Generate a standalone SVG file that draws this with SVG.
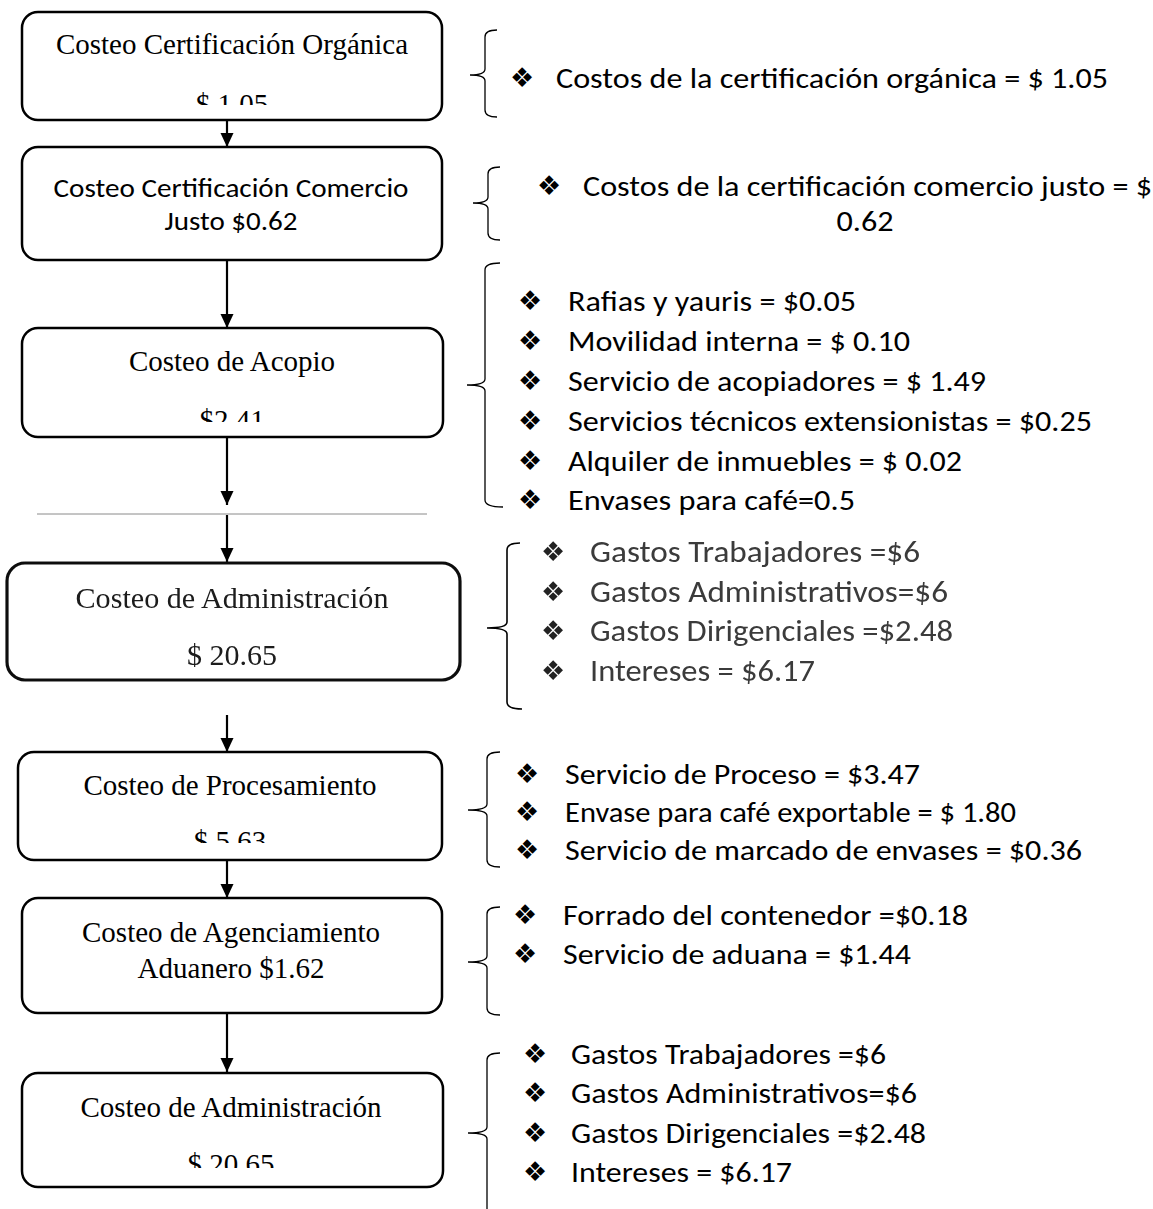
<svg xmlns="http://www.w3.org/2000/svg" width="1153" height="1209" viewBox="0 0 1153 1209">
<defs>
<style>
.box{fill:#fff;stroke:#000;stroke-width:2.5}
.box4{fill:#fff;stroke:#111;stroke-width:3.2}
.ttl{font-family:"Liberation Serif","Times New Roman",serif;font-size:29px;fill:#000;text-anchor:middle}
.cal{font-family:Carlito,Lato,sans-serif;font-size:29px;fill:#000}
.cal2{font-family:Carlito,Lato,sans-serif;font-size:27px;fill:#000;text-anchor:middle}
.gray{font-family:Carlito,Lato,sans-serif;font-size:30px;fill:#3a3a3a}
.blt{font-family:"DejaVu Sans",sans-serif;font-size:27px;text-anchor:middle;fill:#000}
.brace{fill:none;stroke:#000;stroke-width:1.3}
.conn{stroke:#000;stroke-width:2.2;fill:none;marker-end:url(#arr)}
</style>
<marker id="arr" markerUnits="userSpaceOnUse" markerWidth="14" markerHeight="14" viewBox="0 0 14 14" refX="14" refY="7" orient="auto"><path d="M0,0.5 L14,7 L0,13.5 z" fill="#000"/></marker>
<clipPath id="c1"><rect x="0" y="0" width="460" height="105"/></clipPath>
<clipPath id="c3"><rect x="0" y="330" width="460" height="92"/></clipPath>
<clipPath id="c5"><rect x="0" y="754" width="460" height="89"/></clipPath>
<clipPath id="c7"><rect x="0" y="1075" width="460" height="93"/></clipPath>
<filter id="soft" x="-5%" y="-5%" width="110%" height="110%"><feGaussianBlur stdDeviation="0.5"/></filter>
</defs>

<g id="connectors">
<line class="conn" x1="227" y1="120" x2="227" y2="147"/>
<line class="conn" x1="227" y1="260" x2="227" y2="328"/>
<line class="conn" x1="227" y1="437" x2="227" y2="505"/>
<line x1="37" y1="514" x2="427" y2="514" stroke="#8a8a8a" stroke-width="1"/>
<line class="conn" x1="227" y1="515" x2="227" y2="562"/>
<line class="conn" x1="227" y1="715" x2="227" y2="752"/>
<line class="conn" x1="227" y1="860" x2="227" y2="898"/>
<line class="conn" x1="227" y1="1013" x2="227" y2="1072"/>
</g>

<g id="node-organica">
<rect class="box" x="22" y="12" width="420" height="108" rx="16"/>
<text class="ttl" x="232" y="54">Costeo Certificación Orgánica</text>
<text class="ttl" x="232" y="114" clip-path="url(#c1)">$ 1.05</text>
</g>

<g id="node-comercio">
<rect class="box" x="22" y="147" width="420" height="113" rx="16"/>
<text class="cal2" x="231" y="197" textLength="355" lengthAdjust="spacingAndGlyphs">Costeo Certificación Comercio</text>
<text class="cal2" x="231" y="230" textLength="133" lengthAdjust="spacingAndGlyphs">Justo $0.62</text>
</g>

<g id="node-acopio">
<rect class="box" x="22" y="328" width="421" height="109" rx="16"/>
<text class="ttl" x="232" y="371">Costeo de Acopio</text>
<text class="ttl" x="232" y="430" clip-path="url(#c3)">$2.41</text>
</g>

<g id="node-administracion-1" filter="url(#soft)">
<rect class="box4" x="7" y="563" width="453" height="117" rx="18"/>
<text class="ttl" x="232" y="608" style="font-size:30px;fill:#1a1a1a" textLength="313" lengthAdjust="spacingAndGlyphs">Costeo de Administración</text>
<text class="ttl" x="232" y="665" style="font-size:30px;fill:#1a1a1a">$ 20.65</text>
</g>

<g id="node-procesamiento">
<rect class="box" x="18" y="752" width="424" height="108" rx="16"/>
<text class="ttl" x="230" y="795">Costeo de Procesamiento</text>
<text class="ttl" x="230" y="851" clip-path="url(#c5)">$ 5.63</text>
</g>

<g id="node-agenciamiento">
<rect class="box" x="22" y="898" width="420" height="115" rx="16"/>
<text class="ttl" x="231" y="942">Costeo de Agenciamiento</text>
<text class="ttl" x="231" y="978">Aduanero $1.62</text>
</g>

<g id="node-administracion-2">
<rect class="box" x="22" y="1073" width="421" height="114" rx="16"/>
<text class="ttl" x="231" y="1117">Costeo de Administración</text>
<text class="ttl" x="231" y="1174" clip-path="url(#c7)">$ 20.65</text>
</g>

<g id="detail-organica">
<path class="brace" d="M497,30 Q485,30 485,37 L485,69 Q485,75 470,75 Q485,75 485,81 L485,110 Q485,117 497,117"/>
<text class="blt" x="522" y="87">❖</text>
<text class="cal" x="556" y="88" textLength="552" lengthAdjust="spacingAndGlyphs">Costos de la certificación orgánica = $ 1.05</text>
</g>

<g id="detail-comercio">
<path class="brace" d="M500,167 Q488,167 488,174 L488,197 Q488,203 473,203 Q488,203 488,209 L488,233 Q488,240 500,240"/>
<text class="blt" x="549" y="195">❖</text>
<text class="cal" x="583" y="196" textLength="569" lengthAdjust="spacingAndGlyphs">Costos de la certificación comercio justo = $</text>
<text class="cal" x="865" y="231" text-anchor="middle" textLength="57" lengthAdjust="spacingAndGlyphs">0.62</text>
</g>

<g id="detail-acopio">
<path class="brace" d="M500,263 Q485,263 485,270 L485,379 Q485,385 467,385 Q485,385 485,391 L485,500 Q485,507 503,507"/>
<text class="blt" x="530" y="310">❖</text>
<text class="cal" x="568" y="311" textLength="288" lengthAdjust="spacingAndGlyphs">Rafias y yauris = $0.05</text>
<text class="blt" x="530" y="350">❖</text>
<text class="cal" x="568" y="351" textLength="342" lengthAdjust="spacingAndGlyphs">Movilidad interna = $ 0.10</text>
<text class="blt" x="530" y="390">❖</text>
<text class="cal" x="568" y="391" textLength="418" lengthAdjust="spacingAndGlyphs">Servicio de acopiadores = $ 1.49</text>
<text class="blt" x="530" y="430">❖</text>
<text class="cal" x="568" y="431" textLength="524" lengthAdjust="spacingAndGlyphs">Servicios técnicos extensionistas = $0.25</text>
<text class="blt" x="530" y="470">❖</text>
<text class="cal" x="568" y="471" textLength="394" lengthAdjust="spacingAndGlyphs">Alquiler de inmuebles = $ 0.02</text>
<text class="blt" x="530" y="509">❖</text>
<text class="cal" x="568" y="510" textLength="287" lengthAdjust="spacingAndGlyphs">Envases para café=0.5</text>
</g>

<g id="detail-administracion-1" filter="url(#soft)">
<path class="brace" style="stroke-width:1.6" d="M520,543 Q507,543 507,550 L507,622 Q507,628 487,628 Q507,628 507,634 L507,702 Q507,709 522,709"/>
<text class="blt" x="553" y="561" style="fill:#222">❖</text>
<text class="gray" x="590" y="562" textLength="330" lengthAdjust="spacingAndGlyphs">Gastos Trabajadores =$6</text>
<text class="blt" x="553" y="601" style="fill:#222">❖</text>
<text class="gray" x="590" y="602" textLength="358" lengthAdjust="spacingAndGlyphs">Gastos Administrativos=$6</text>
<text class="blt" x="553" y="640" style="fill:#222">❖</text>
<text class="gray" x="590" y="641" textLength="363" lengthAdjust="spacingAndGlyphs">Gastos Dirigenciales =$2.48</text>
<text class="blt" x="553" y="680" style="fill:#222">❖</text>
<text class="gray" x="590" y="681" textLength="225" lengthAdjust="spacingAndGlyphs">Intereses = $6.17</text>
</g>

<g id="detail-procesamiento">
<path class="brace" d="M500,752 Q487,752 487,759 L487,804 Q487,810 468,810 Q487,810 487,816 L487,860 Q487,867 500,867"/>
<text class="blt" x="527" y="783">❖</text>
<text class="cal" x="565" y="784" textLength="355" lengthAdjust="spacingAndGlyphs">Servicio de Proceso = $3.47</text>
<text class="blt" x="527" y="821">❖</text>
<text class="cal" x="565" y="822" textLength="451" lengthAdjust="spacingAndGlyphs">Envase para café exportable = $ 1.80</text>
<text class="blt" x="527" y="859">❖</text>
<text class="cal" x="565" y="860" textLength="517" lengthAdjust="spacingAndGlyphs">Servicio de marcado de envases = $0.36</text>
</g>

<g id="detail-agenciamiento">
<path class="brace" d="M500,907 Q487,907 487,914 L487,956 Q487,962 468,962 Q487,962 487,968 L487,1008 Q487,1015 500,1015"/>
<text class="blt" x="525" y="924">❖</text>
<text class="cal" x="563" y="925" textLength="405" lengthAdjust="spacingAndGlyphs">Forrado del contenedor =$0.18</text>
<text class="blt" x="525" y="963">❖</text>
<text class="cal" x="563" y="964" textLength="348" lengthAdjust="spacingAndGlyphs">Servicio de aduana = $1.44</text>
</g>

<g id="detail-administracion-2">
<path class="brace" d="M500,1053 Q487,1053 487,1060 L487,1127 Q487,1133 468,1133 Q487,1133 487,1139 L487,1209"/>
<text class="blt" x="535" y="1063">❖</text>
<text class="cal" x="571" y="1064" textLength="315" lengthAdjust="spacingAndGlyphs">Gastos Trabajadores =$6</text>
<text class="blt" x="535" y="1102">❖</text>
<text class="cal" x="571" y="1103" textLength="346" lengthAdjust="spacingAndGlyphs">Gastos Administrativos=$6</text>
<text class="blt" x="535" y="1142">❖</text>
<text class="cal" x="571" y="1143" textLength="355" lengthAdjust="spacingAndGlyphs">Gastos Dirigenciales =$2.48</text>
<text class="blt" x="535" y="1181">❖</text>
<text class="cal" x="571" y="1182" textLength="221" lengthAdjust="spacingAndGlyphs">Intereses = $6.17</text>
</g>
</svg>
